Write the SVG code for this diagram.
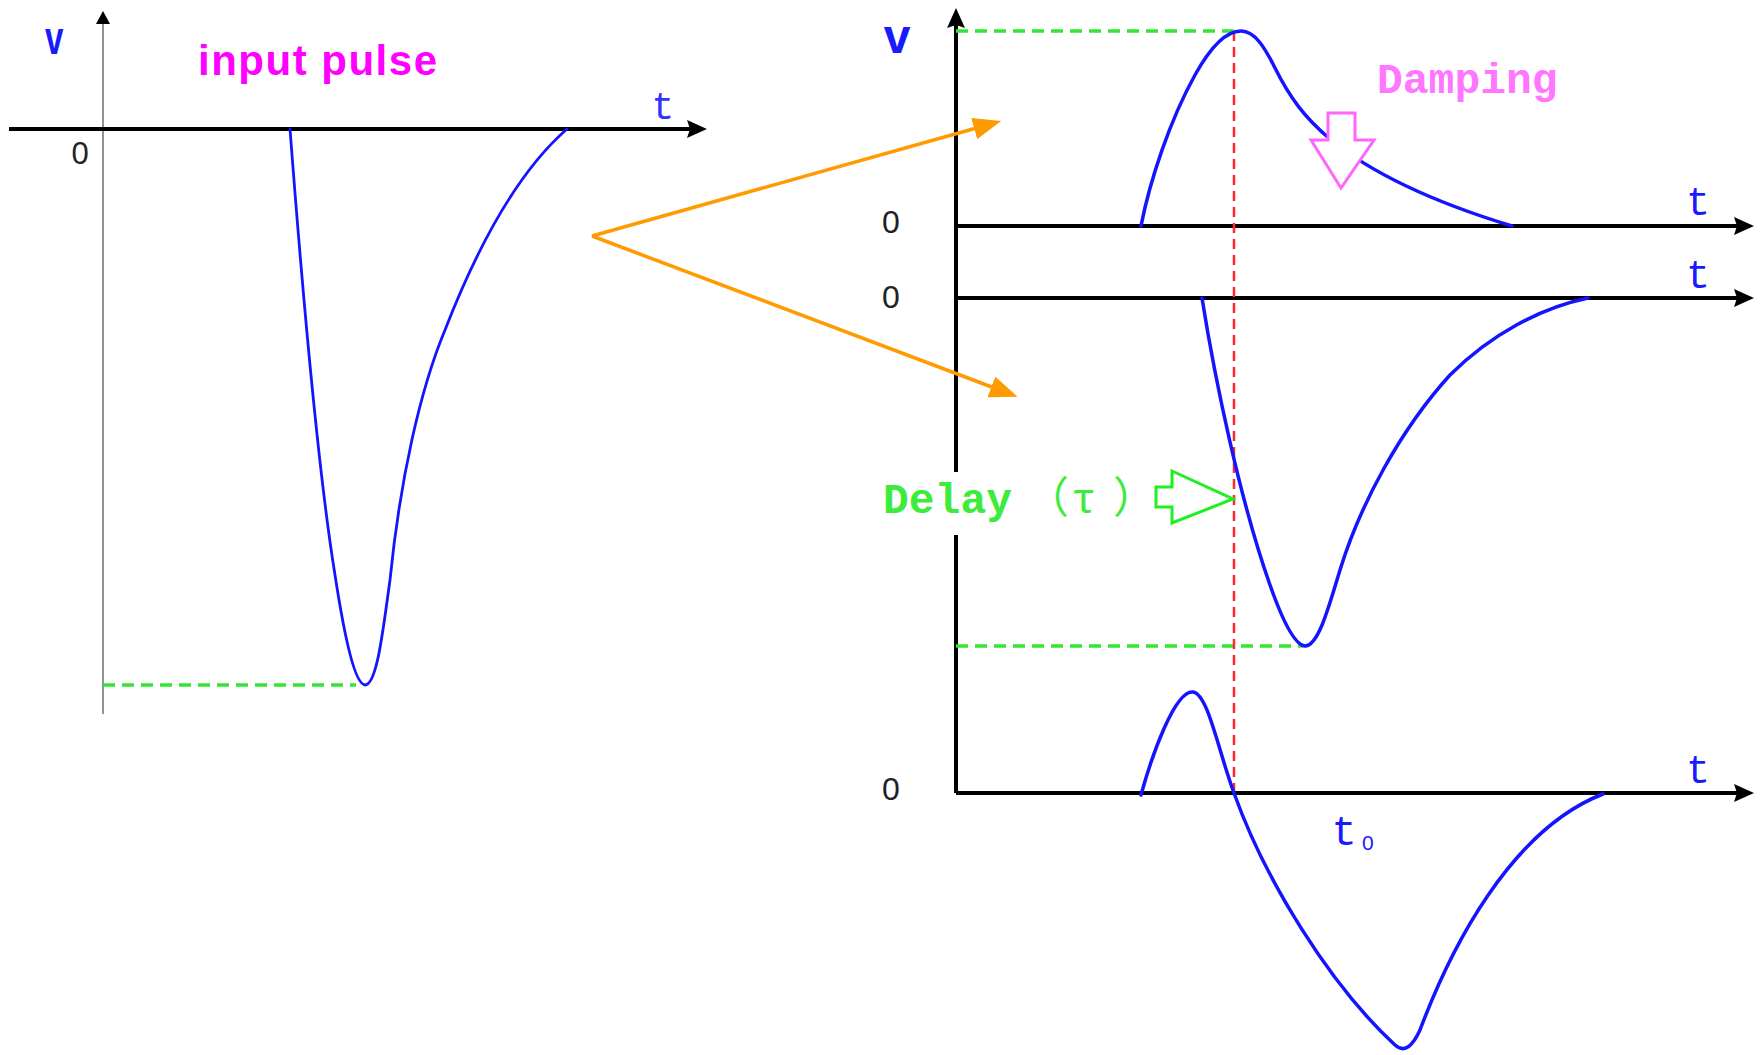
<svg xmlns="http://www.w3.org/2000/svg" width="1762" height="1055" viewBox="0 0 1762 1055">
<style>
.axis{stroke:#000;stroke-width:4;fill:none}
.thinaxis{stroke:#777;stroke-width:1.6;fill:none}
.curve{stroke:#1414ff;stroke-width:3.5;fill:none;stroke-linejoin:round;stroke-linecap:round}
.gdash{stroke:#33e633;stroke-width:3.5;stroke-dasharray:12 7;fill:none}
.rdash{stroke:#ff2a2a;stroke-width:2.5;stroke-dasharray:10 6;fill:none}
.orange{stroke:#ff9a00;stroke-width:3.5;fill:none}
.lbl{font-family:"Liberation Sans",Arial,sans-serif}
.mono{font-family:"Liberation Mono","Noto Sans CJK JP",monospace}
.blue{fill:#1a1aff}
.zero{font-family:"Liberation Sans",Arial,sans-serif;fill:#222;text-anchor:middle}
</style>
<defs>
<marker id="axArrow" markerUnits="userSpaceOnUse" viewBox="0 0 20 18" markerWidth="20" markerHeight="18" refX="4" refY="9" orient="auto"><path d="M0,0 L20,9 L0,18 L3,9 z" fill="#000"/></marker>
<marker id="thinArrow" markerUnits="userSpaceOnUse" viewBox="0 0 13 14" markerWidth="13" markerHeight="14" refX="0" refY="7" orient="auto"><path d="M0,0 L13,7 L0,14 z" fill="#000"/></marker>
<marker id="orArrow" markerUnits="userSpaceOnUse" viewBox="0 0 28 22" markerWidth="28" markerHeight="22" refX="6" refY="11" orient="auto"><path d="M0,0 L28,11 L0,22 z" fill="#ff9a00"/></marker>
</defs>
<rect width="1762" height="1055" fill="#fff"/>

<g id="input-graph">
  <line class="thinaxis" x1="103" y1="714" x2="103" y2="24" marker-end="url(#thinArrow)"/>
  <line class="axis" x1="9" y1="129" x2="691" y2="129" marker-end="url(#axArrow)"/>
  <line class="gdash" x1="103" y1="685" x2="356" y2="685"/>
  <path class="curve" style="stroke-width:2.8" d="M290,129 C300,260 318,470 335,575 C345,640 355,684 365,685 C377,685 383,630 390,580 C400,480 420,390 445,330 C480,240 520,170 567,129"/>
  <text class="lbl blue" font-weight="bold" font-size="46" transform="translate(45,54) scale(0.72,1)">v</text>
  <text class="mono" font-size="38" fill="#3333ff" x="663" y="119" text-anchor="middle">t</text>
  <text class="zero" font-size="31" x="80" y="164">0</text>
  <text class="lbl" font-weight="bold" font-size="42" letter-spacing="1.5" fill="#ff00ff" x="198" y="75">input pulse</text>
</g>

<g id="output-graph">
  <path class="axis" d="M956,793 V535 M956,472 V24" marker-end="url(#axArrow)"/>
  <line class="axis" x1="956" y1="226" x2="1738" y2="226" marker-end="url(#axArrow)"/>
  <line class="axis" x1="956" y1="298" x2="1738" y2="298" marker-end="url(#axArrow)"/>
  <line class="axis" x1="956" y1="793" x2="1738" y2="793" marker-end="url(#axArrow)"/>
  <line class="gdash" x1="956" y1="31" x2="1236" y2="31"/>
  <line class="gdash" x1="956" y1="646" x2="1303" y2="646"/>
  <line class="rdash" x1="1234" y1="31" x2="1234" y2="793"/>
  <text class="lbl blue" font-weight="bold" font-size="48" x="897" y="53" text-anchor="middle">v</text>
  <text class="zero" font-size="32" x="891" y="233">0</text>
  <text class="zero" font-size="32" x="891" y="308">0</text>
  <text class="zero" font-size="32" x="891" y="800">0</text>
  <text class="mono blue" font-size="40" x="1698" y="215" text-anchor="middle">t</text>
  <text class="mono blue" font-size="40" x="1698" y="288" text-anchor="middle">t</text>
  <text class="mono blue" font-size="40" x="1698" y="783" text-anchor="middle">t</text>
</g>

<g id="reflected-wave">
  <path class="curve" d="M1141,226 C1150,180 1170,120 1195,75 C1210,48 1225,31 1241,31 C1255,31 1265,48 1275,68 C1290,98 1305,118 1330,139 C1365,168 1420,198 1512,226"/>
  <polygon points="1328,113 1355,113 1355,140 1374,140 1341,188 1311,140 1328,140" fill="#fff" stroke="#ff66ff" stroke-width="3"/>
  <text class="mono" font-weight="bold" font-size="43" fill="#ff77ff" x="1377" y="93">Damping</text>
</g>

<g id="delayed-wave">
  <path class="curve" d="M1202,298 C1215,380 1240,500 1270,585 C1283,622 1295,645 1305,646 C1318,646 1328,610 1340,570 C1360,505 1400,430 1450,375 C1490,335 1540,308 1588,298"/>
  <polygon points="1156,487 1172,487 1172,471 1233,499 1172,523 1172,507 1156,507" fill="#fff" stroke="#22ee22" stroke-width="3"/>
  <text class="mono" font-weight="bold" font-size="43" fill="#3cec3c" y="513"><tspan x="883">Delay</tspan><tspan x="1026" font-weight="normal">（</tspan><tspan x="1071" font-weight="normal">τ</tspan><tspan x="1113" font-weight="normal">）</tspan></text>
</g>

<g id="sum-wave">
  <path class="curve" d="M1141,795 C1152,755 1175,690 1193,692 C1208,694 1218,750 1234,793 C1265,880 1330,985 1395,1045 C1405,1054 1413,1045 1420,1030 C1450,950 1510,830 1603,794"/>
  <text class="mono blue" font-size="42" x="1344" y="845" text-anchor="middle">t</text>
  <text class="lbl blue" font-size="21" x="1362" y="850">0</text>
</g>

<g id="connectors">
  <line class="orange" x1="592" y1="236" x2="980" y2="127" marker-end="url(#orArrow)"/>
  <line class="orange" x1="592" y1="236" x2="997" y2="389" marker-end="url(#orArrow)"/>
</g>
</svg>
